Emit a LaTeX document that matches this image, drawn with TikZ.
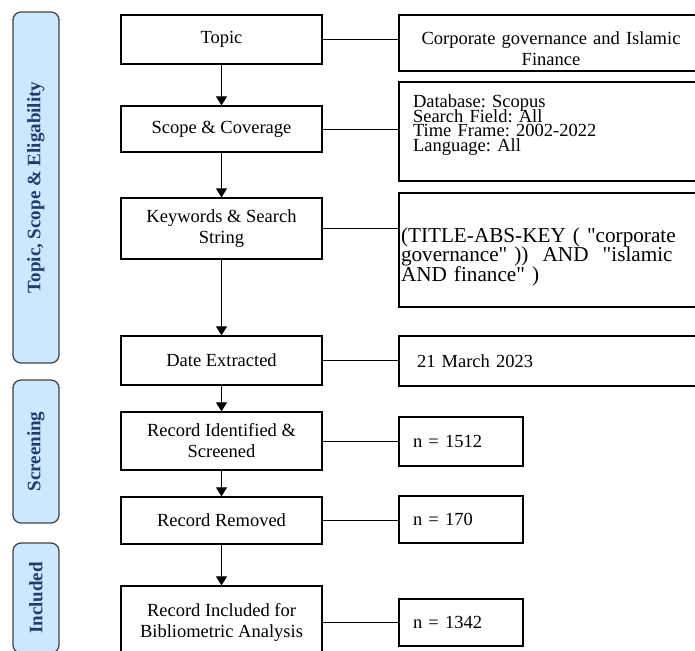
\documentclass[tikz,border=0pt]{standalone}
\usepackage{fontspec}
\setmainfont{Liberation Serif}
\usetikzlibrary{arrows.meta}
\definecolor{phasefill}{HTML}{CCE8FF}
\definecolor{phasetext}{HTML}{1F3B70}
\definecolor{phaseline}{HTML}{454545}
\frenchspacing
\newcommand\tightlines{\lineskiplimit -20pt\relax}

\begin{document}
\begin{tikzpicture}[x=0.5pt,y=-0.5pt,>={Triangle[width=5.5pt,length=4.5pt]},
                line width=0.5pt,
                stage node/.style={rectangle,draw,line width=0.65pt,minimum width=100.5pt,align=center,inner sep=1pt,font=\fontsize{9.25}{10.5}\selectfont},
                info node/.style={rectangle,draw,line width=0.65pt,minimum width=152pt,align=left,font=\fontsize{9.25}{10.5}\selectfont},
                count node/.style={info node,minimum width=62pt,text width=48pt,inner xsep=7pt},
                phase node/.style={rectangle,rounded corners=4pt,draw=phaseline,line width=0.65pt,fill=phasefill,text=phasetext,
                  rotate=90,minimum height=23pt,font=\fontsize{9.5}{11}\selectfont\bfseries}]
                \useasboundingbox (0,0) rectangle (695,650);
                \clip (0,0) rectangle (695,650);
                % left column
                \node[stage node,minimum height=24.5pt] (0) at (221.5,39.5) {Topic};
                \node[stage node,minimum height=23pt] (1) at (221.5,129) {Scope \& Coverage};
                \node[stage node,minimum height=30.5pt] (2) at (221.5,228.5) {Keywords \& Search\\String};
                \node[stage node,minimum height=24.5pt] (3) at (221.5,360.5) {Date Extracted};
                \node[stage node,minimum height=29pt] (4) at (221.5,441) {Record Identified \&\\Screened};
                \node[stage node,minimum height=23.5pt] (5) at (221.5,520.5) {Record Removed};
                \node[stage node,minimum height=36pt] (6) at (221.5,622) {Record Included for\\Bibliometric Analysis};
                % right column
                \node[info node,minimum height=28pt,inner ysep=0pt,text width=150pt,inner xsep=1pt,align=center] (10) at (551,43)
                  {\rule{0pt}{12pt}Corporate governance and Islamic\\Finance};
                \node[info node,minimum height=49.5pt,text width=138pt,inner xsep=7pt,
                  font=\fontsize{9.25}{7.4}\selectfont\tightlines] (11) at (551,131.5)
                  {Database: Scopus\\Search Field: All\\Time Frame: 2002-2022\\Language: All\\[1pt]~};
                \node[info node,minimum height=57pt,text width=150pt,inner xsep=1pt,
                  font=\fontsize{10.6}{9.8}\selectfont\tightlines] (12) at (551,250)
                  {\rule{0pt}{14pt}(TITLE-ABS-KEY ( \textquotedbl corporate\\governance\textquotedbl{} ))~ AND~ \textquotedbl islamic\\AND finance\textquotedbl{} )};
                \node[info node,minimum height=25pt,text width=134pt,inner xsep=9pt] (13) at (551,361) {21 March 2023};
                \node[count node,minimum height=24.5pt] (14) at (461,441.5) {n = 1512};
                \node[count node,minimum height=23.5pt] (15) at (461,519.5) {n = 170};
                \node[count node,minimum height=23.5pt] (16) at (461,622.5) {n = 1342};
                % phases
                \node[phase node,minimum width=175.5pt] (20) at (36,187.5) {Topic, Scope \& Eligability};
                \node[phase node,minimum width=71.5pt] (21) at (36,451.5) {Screening};
                \node[phase node,minimum width=55pt] (22) at (36,598) {Included};

                \path[->]
                (0) edge (1)
                (1) edge (2)
                (2) edge (3)
                (3) edge (4)
                (4) edge (5)
                (5) edge (6)
                ;
                \path
                (0.east) edge (0.east -| 10.west)
                (1.east) edge (1.east -| 11.west)
                (2.east) edge (2.east -| 12.west)
                (3.east) edge (3.east -| 13.west)
                (4.east) edge (4.east -| 14.west)
                (5.east) edge (5.east -| 15.west)
                (6.east) edge (6.east -| 16.west)
                ;
\end{tikzpicture}
\end{document}
